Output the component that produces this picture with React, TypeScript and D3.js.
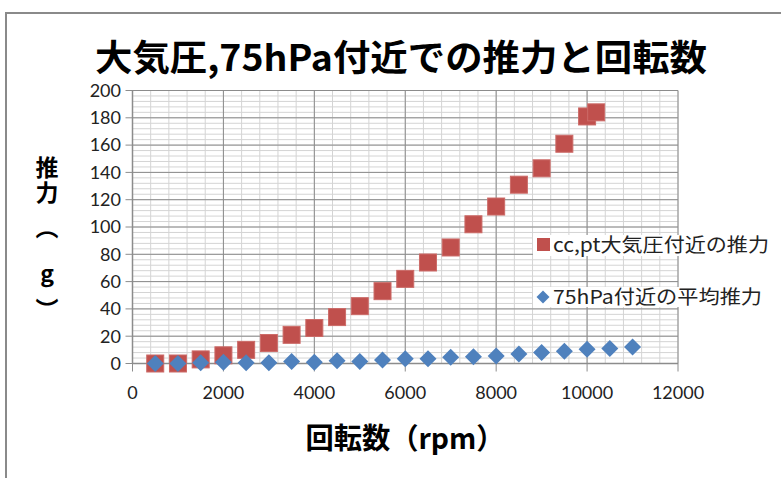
import React from "react";
import * as d3 from "d3";

const W = 781;
const H = 478;

const titleText = "大気圧,75hPa付近での推力と回転数";
const xTitle = "回転数（rpm）";
const yTitleMain = "推力";
const yTitleRest = ["︵", "g", "︶"];
const legendRed = "cc,pt大気圧付近の推力";
const legendBlue = "75hPa付近の平均推力";

const redRpm = [500, 1000, 1500, 2000, 2500, 3000, 3500, 4000, 4500, 5000, 5500, 6000, 6500, 7000, 7500, 8000, 8500, 9000, 9500, 10000, 10200];
const redThrust = [0, 0, 3, 6, 10, 15, 21, 26, 34, 42, 53, 62, 74, 85, 102, 115, 131, 143, 161, 181, 184];

const blueRpm = [500, 1000, 1500, 2000, 2500, 3000, 3500, 4000, 4500, 5000, 5500, 6000, 6500, 7000, 7500, 8000, 8500, 9000, 9500, 10000, 10500, 11000];
const blueThrust = [0, 0, 0.5, 1, 0.5, 0.5, 1.5, 1, 2, 1.5, 2.5, 3.5, 3.5, 4.5, 5, 5.5, 7, 8, 9, 10.5, 11, 12];

const xTicks = [0, 2000, 4000, 6000, 8000, 10000, 12000];
const yTicks = [0, 20, 40, 60, 80, 100, 120, 140, 160, 180, 200];

const RED = "#C0504D";
const BLUE = "#4F81BD";
const MAJOR = "#8c8c8c";
const MINOR = "#d4d4d4";

export default function App() {
  const x = d3.scaleLinear().domain([0, 12000]).range([132.5, 678]);
  const y = d3.scaleLinear().domain([0, 200]).range([363.5, 90.5]);
  const xMinor = d3.range(0, 12001, 400);
  const yMinor = d3.range(0, 201, 4);
  const [x0, x1] = x.range();
  const [y0, y1] = y.range();
  const sq = 17;
  const dh = 8.5;
  const diamond = (cx: number, cy: number, h: number) =>
    `M${cx},${cy - h}L${cx + h},${cy}L${cx},${cy + h}L${cx - h},${cy}Z`;
  const tickFont = "Lato, 'Liberation Sans', sans-serif";
  const cjk = "'Noto Sans CJK JP', 'Noto Sans', sans-serif";
  const yTitleRestPos = [226, 272, 308];

  return (
    <svg width={W} height={H} style={{ position: "absolute", left: 0, top: 0, background: "#fff" }}>
      <rect x={0} y={0} width={W} height={H} fill="#fff" />
      {/* chart border */}
      <rect x={6} y={13} width={W + 20} height={H + 20} fill="none" stroke="#8a8a8a" strokeWidth={2} />

      {/* minor grid */}
      {yMinor.map((v) => (
        <line key={"ym" + v} x1={x0} x2={x1} y1={y(v)} y2={y(v)} stroke={MINOR} strokeWidth={1} />
      ))}
      {xMinor.map((v) => (
        <line key={"xm" + v} x1={x(v)} x2={x(v)} y1={y0} y2={y1} stroke={MINOR} strokeWidth={1} />
      ))}
      {/* major grid */}
      {yTicks.map((v) => (
        <line key={"yM" + v} x1={x0 - 7} x2={x1} y1={y(v)} y2={y(v)} stroke={MAJOR} strokeWidth={1} />
      ))}
      {xTicks.map((v) => (
        <line key={"xM" + v} x1={x(v)} x2={x(v)} y1={y0 + 8} y2={y1} stroke={MAJOR} strokeWidth={1} />
      ))}
      {/* axes */}
      <line x1={x0} x2={x0} y1={y0} y2={y1} stroke={MAJOR} strokeWidth={1.5} />
      <line x1={x0} x2={x1} y1={y0} y2={y0} stroke={MAJOR} strokeWidth={1.5} />

      {/* tick labels */}
      {yTicks.map((v) => (
        <text key={"yl" + v} x={121} y={y(v)} dy="0.35em" textAnchor="end" fontFamily={tickFont} fontSize={18} fill="#222">
          {v}
        </text>
      ))}
      {xTicks.map((v) => (
        <text key={"xl" + v} x={x(v)} y={399} textAnchor="middle" fontFamily={tickFont} fontSize={18} fill="#222">
          {v}
        </text>
      ))}

      {/* red squares */}
      {redRpm.map((r, i) => (
        <rect key={"r" + i} x={x(r) - sq / 2} y={y(redThrust[i]) - sq / 2} width={sq} height={sq} fill={RED} stroke="#cc6b68" strokeWidth={1} />
      ))}
      {/* blue diamonds */}
      {blueRpm.map((r, i) => (
        <path key={"b" + i} d={diamond(x(r), y(blueThrust[i]), dh)} fill={BLUE} />
      ))}

      {/* legend */}
      <rect x={533} y={235} width={244} height={21} fill="#fff" />
      <rect x={533} y={287} width={238} height={20} fill="#fff" />
      <rect x={537} y={238} width={13} height={13} fill={RED} />
      <path d={diamond(543, 297, 6.5)} fill={BLUE} />
      <text x={553} y={245} dy="0.35em" fontFamily={cjk} fontSize={19} fill="#222" textLength={216} lengthAdjust="spacingAndGlyphs">
        {legendRed}
      </text>
      <text x={553} y={297} dy="0.35em" fontFamily={cjk} fontSize={19} fill="#222" textLength={209} lengthAdjust="spacingAndGlyphs">
        {legendBlue}
      </text>

      {/* title */}
      <text x={401} y={55} dominantBaseline="central" textAnchor="middle" fontFamily={cjk} fontWeight="bold" fontSize={36} fill="#000" textLength={612} lengthAdjust="spacingAndGlyphs">
        {titleText}
      </text>

      {/* x title */}
      <text x={405} y={436} dominantBaseline="central" textAnchor="middle" fontFamily={cjk} fontWeight="bold" fontSize={29} fill="#000" textLength={199} lengthAdjust="spacingAndGlyphs">
        {xTitle}
      </text>

      {/* y title */}
      <text x={47} y={156} fontFamily={cjk} fontWeight="bold" fontSize={23} fill="#000" letterSpacing={2} style={{ writingMode: "vertical-rl", textOrientation: "upright" } as any}>
        {yTitleMain}
      </text>
      {yTitleRest.map((c, i) => (
        <text key={"yt" + i} x={47} y={yTitleRestPos[i]} dominantBaseline="central" textAnchor="middle" fontFamily={cjk} fontWeight="bold" fontSize={23} fill="#000">
          {c}
        </text>
      ))}
    </svg>
  );
}
